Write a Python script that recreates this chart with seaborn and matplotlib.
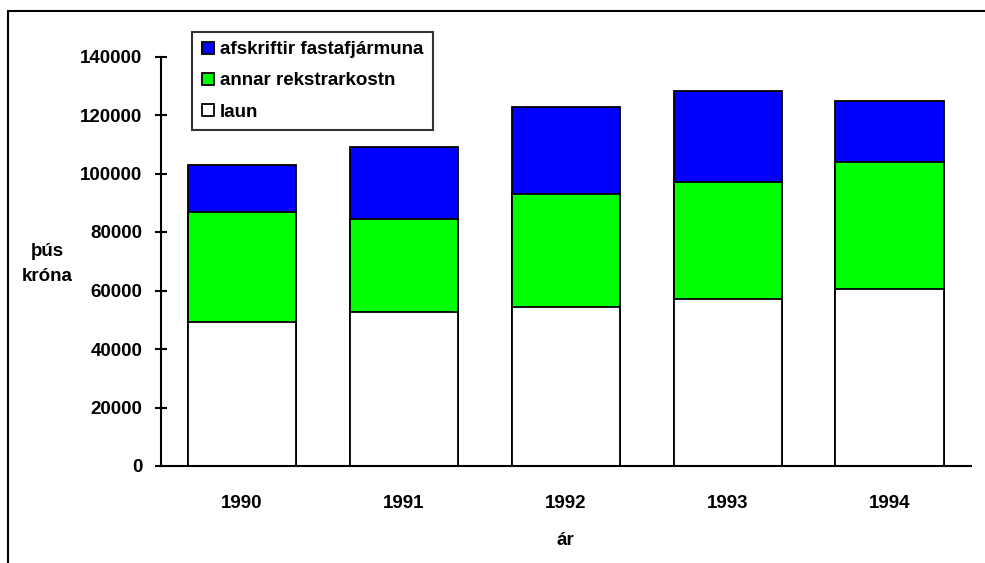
import matplotlib
matplotlib.use("Agg")
import matplotlib.pyplot as plt
import seaborn as sns
import numpy as np
from matplotlib.patches import Rectangle
from matplotlib.lines import Line2D

years = ["1990", "1991", "1992", "1993", "1994"]
laun = [49200, 52500, 54500, 57100, 60400]
annar = [37500, 31800, 38400, 40000, 43400]
afskriftir = [16100, 24700, 29700, 31200, 21000]
series_names = ["afskriftir fastafjármuna", "annar rekstrarkostn", "laun"]
series_colors = ["#0000FF", "#00FF00", "#FFFFFF"]
yticks = [0, 20000, 40000, 60000, 80000, 100000, 120000, 140000]

sns.set_style("white")
plt.rcParams["font.family"] = ["Liberation Sans", "DejaVu Sans"]
plt.rcParams["font.weight"] = "bold"
plt.rcParams["text.color"] = "black"
plt.rcParams["axes.labelcolor"] = "black"
plt.rcParams["xtick.color"] = "black"
plt.rcParams["ytick.color"] = "black"

W, H = 985, 563
fig = plt.figure(figsize=(W / 100, H / 100), dpi=100)
ax = fig.add_axes([161 / W, 1 - 466 / H, (970.5 - 161) / W, (466 - 56.5) / H])

lvl1 = np.array(laun)
lvl2 = lvl1 + np.array(annar)
lvl3 = lvl2 + np.array(afskriftir)

for tops, col in zip([lvl3, lvl2, lvl1], series_colors):
    sns.barplot(x=years, y=tops, color=col, saturation=1, edgecolor="black",
                linewidth=1.3, width=0.668, ax=ax)

ax.set_ylim(0, 140000)
ax.set_xlim(-0.5, 4.5)
ax.set_yticks(yticks)
ax.set_yticklabels([str(v) for v in yticks], fontsize=13.5, fontweight="bold", color="black")
ax.set_xticks(range(len(years)))
ax.set_xticklabels(years, fontsize=13.5, fontweight="bold", color="black")
ax.set_xticks(np.arange(-0.5, 5, 1.0), minor=True)
ax.tick_params(axis="x", which="major", length=0, pad=21, labelcolor="black")
ax.tick_params(axis="x", which="minor", direction="inout", length=9, width=1.5, color="black")
ax.tick_params(axis="y", direction="inout", length=9, width=1.5, color="black", pad=9, left=True,
               labelcolor="black")

for s in ["top", "right"]:
    ax.spines[s].set_visible(False)
for s in ["left", "bottom"]:
    ax.spines[s].set_color("black")
    ax.spines[s].set_linewidth(1.5)

ax.set_xlabel("ár", fontsize=13.5, fontweight="bold", labelpad=14, color="black")
ax.set_ylabel("")
fig.text(47 / W, 1 - 264 / H, "þús\nkróna", ha="center", va="center",
         fontsize=13.5, fontweight="bold", linespacing=1.6, color="black")

handles = [Line2D([0], [0], marker="s", linestyle="none", markersize=8.5,
                  markerfacecolor=c, markeredgecolor="black", markeredgewidth=1.3)
           for c in series_colors]
leg = ax.legend(handles, series_names, loc="upper left",
                bbox_to_anchor=(192 / W, 1 - 31.7 / H), bbox_transform=fig.transFigure,
                frameon=True, fancybox=False, fontsize=13.5, handlelength=0.7,
                handletextpad=0.3, labelspacing=0.75, borderpad=0.5, borderaxespad=0)
leg.get_frame().set_edgecolor("black")
leg.get_frame().set_linewidth(1.5)
for t in leg.get_texts():
    t.set_fontweight("bold")
    t.set_color("black")

fig.patches.append(Rectangle((8 / W, -0.5), 2, 0.5 + 1 - 11 / H, transform=fig.transFigure,
                             fill=False, edgecolor="black", linewidth=1.5))

fig.savefig("out.png", dpi=100)
